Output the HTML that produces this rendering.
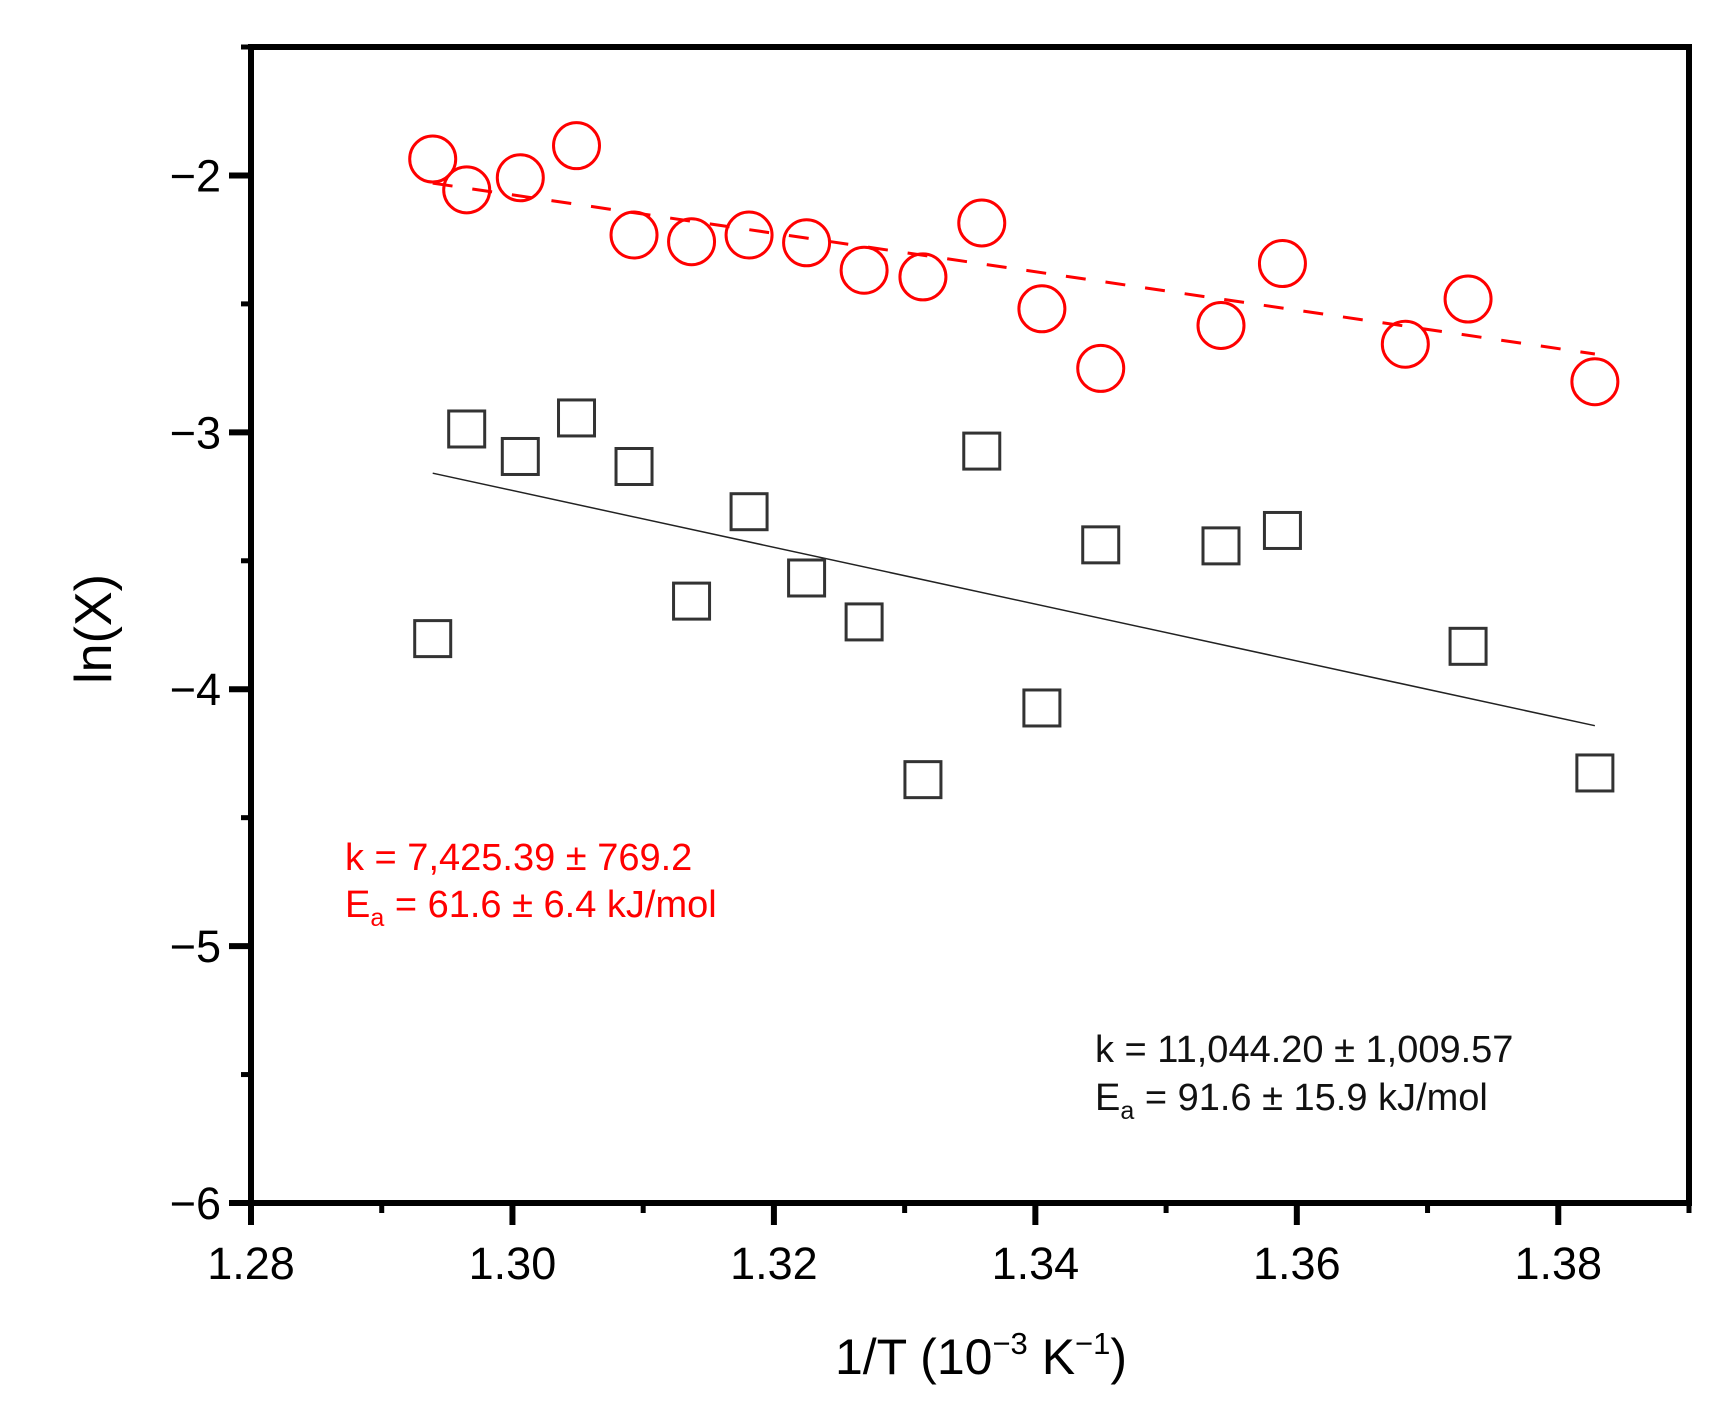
<!DOCTYPE html>
<html><head><meta charset="utf-8">
<style>
html,body{margin:0;padding:0;background:#fff;}
svg{display:block;font-family:"Liberation Sans",Arial,sans-serif;}
</style></head>
<body>
<svg id="chart" width="1729" height="1422" viewBox="0 0 1729 1422" xmlns="http://www.w3.org/2000/svg">
<g id="axes"></g>
<g id="marks"></g>
<text transform="translate(111,629) rotate(-90)" text-anchor="middle" font-size="52">ln(X)</text>
<text x="981" y="1374" text-anchor="middle" font-size="50">1/T (10<tspan font-size="31" dy="-20">−3</tspan><tspan dy="20"> K</tspan><tspan font-size="31" dy="-20">−1</tspan><tspan dy="20">)</tspan></text>
<g fill="#ff0000" font-size="38">
<text x="345" y="870">k = 7,425.39 ± 769.2</text>
<text x="345" y="917">E<tspan font-size="25" dy="9">a</tspan><tspan dy="-9"> = 61.6 ± 6.4 kJ/mol</tspan></text>
</g>
<g fill="#111" font-size="38">
<text x="1095" y="1062">k = 11,044.20 ± 1,009.57</text>
<text x="1095" y="1110">E<tspan font-size="25" dy="9">a</tspan><tspan dy="-9"> = 91.6 ± 15.9 kJ/mol</tspan></text>
</g>
</svg>
<script>
const xTicks=[1.28,1.30,1.32,1.34,1.36,1.38];
const xTickLabels=["1.28","1.30","1.32","1.34","1.36","1.38"];
const yTicks=[-2,-3,-4,-5,-6];
const yTickLabels=["−2","−3","−4","−5","−6"];
const redX=[1.2939,1.2965,1.3006,1.3049,1.3093,1.3137,1.3181,1.3225,1.3269,1.3314,1.3359,1.3405,1.3450,1.3542,1.3589,1.3683,1.3731,1.3828];
const redY=[-1.936,-2.056,-2.009,-1.884,-2.232,-2.258,-2.232,-2.262,-2.369,-2.395,-2.185,-2.519,-2.751,-2.584,-2.343,-2.657,-2.481,-2.803];
const blackX=[1.2939,1.2965,1.3006,1.3049,1.3093,1.3137,1.3181,1.3225,1.3269,1.3314,1.3359,1.3405,1.3450,1.3542,1.3589,1.3731,1.3828];
const blackY=[-3.803,-2.987,-3.094,-2.944,-3.133,-3.657,-3.309,-3.567,-3.738,-4.352,-3.073,-4.073,-3.438,-3.442,-3.382,-3.833,-4.326];
const redFitX=[1.2939,1.3828];
const redFitY=[-2.030,-2.695];
const blackFitX=[1.2939,1.3828];
const blackFitY=[-3.159,-4.142];

const NS="http://www.w3.org/2000/svg";
const L=251,R=1689,T=47,B=1203;
const X0=1.28,X1=1.39,Y0=-6,Y1=-1.5;
function sx(v){return L+(v-X0)/(X1-X0)*(R-L);}
function sy(v){return B-(v-Y0)/(Y1-Y0)*(B-T);}
function mk(tag,attrs,parent){const e=document.createElementNS(NS,tag);for(const k in attrs)e.setAttribute(k,attrs[k]);parent.appendChild(e);return e;}
const axes=document.getElementById('axes'),marks=document.getElementById('marks');

let fr=mk('rect',{x:L,y:T,width:R-L,height:B-T,fill:'none',stroke:'#000','stroke-width':6},axes);


xTicks.forEach((v,i)=>{
  let t=mk('line',{x1:sx(v),x2:sx(v),y1:B,y2:B+22,stroke:'#000','stroke-width':6},axes);
  
  
  let m=mk('line',{x1:sx(v+0.01),x2:sx(v+0.01),y1:B,y2:B+10,stroke:'#000','stroke-width':5},axes);
  
  
  let lb=mk('text',{x:sx(v),y:1279,'text-anchor':'middle','font-size':45},axes);
  lb.textContent=xTickLabels[i];
  
  
});
yTicks.forEach((v,i)=>{
  let t=mk('line',{x1:L-22,x2:L,y1:sy(v),y2:sy(v),stroke:'#000','stroke-width':6},axes);
  
  
  let m=mk('line',{x1:L-10,x2:L,y1:sy(v+0.5),y2:sy(v+0.5),stroke:'#000','stroke-width':5},axes);
  
  
  let lb=mk('text',{x:L-30,y:sy(v)+16,'text-anchor':'end','font-size':45},axes);
  lb.textContent=yTickLabels[i];
  
  
});
let rf=mk('line',{x1:sx(redFitX[0]),y1:sy(redFitY[0]),x2:sx(redFitX[1]),y2:sy(redFitY[1]),stroke:'#ff0000','stroke-width':3,'stroke-dasharray':'20,20'},marks);


let bf=mk('line',{x1:sx(blackFitX[0]),y1:sy(blackFitY[0]),x2:sx(blackFitX[1]),y2:sy(blackFitY[1]),stroke:'#222','stroke-width':1.5},marks);


redX.forEach((v,i)=>{
  let c=mk('circle',{cx:sx(v),cy:sy(redY[i]),r:23,fill:'none',stroke:'#ff0000','stroke-width':3},marks);
  
  
});
blackX.forEach((v,i)=>{
  let s=mk('rect',{x:sx(v)-18,y:sy(blackY[i])-18,width:36,height:36,fill:'none',stroke:'#333','stroke-width':3},marks);
  
  
});
</script>
</body></html>
